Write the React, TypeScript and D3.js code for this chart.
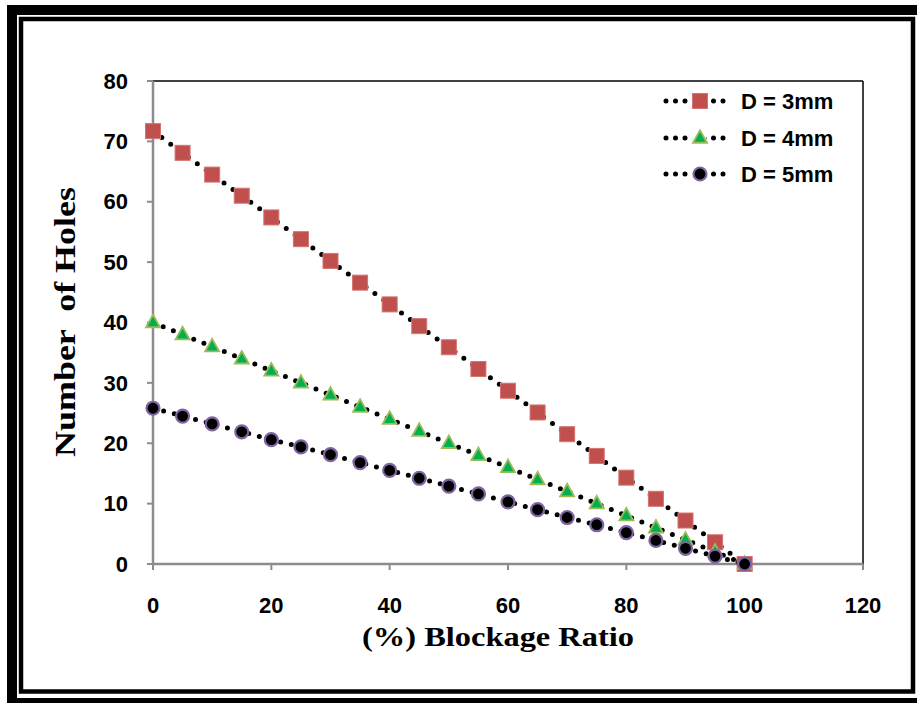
import React from "react";
import * as d3 from "d3";

const blockage = [0, 5, 10, 15, 20, 25, 30, 35, 40, 45, 50, 55, 60, 65, 70, 75, 80, 85, 90, 95, 100];
const holesD3 = [71.7, 68.1, 64.5, 61.0, 57.4, 53.8, 50.2, 46.6, 43.0, 39.4, 35.9, 32.3, 28.7, 25.1, 21.5, 17.9, 14.3, 10.8, 7.2, 3.6, 0];
const holesD4 = [40, 38, 36, 34, 32, 30, 28, 26, 24, 22, 20, 18, 16, 14, 12, 10, 8, 6, 4, 2, 0];
const holesD5 = [25.8, 24.5, 23.2, 21.9, 20.6, 19.4, 18.1, 16.8, 15.5, 14.2, 12.9, 11.6, 10.3, 9.0, 7.7, 6.5, 5.2, 3.9, 2.6, 1.3, 0];
const seriesNames = ["D = 3mm", "D = 4mm", "D = 5mm"];
const xTicks = [0, 20, 40, 60, 80, 100, 120];
const yTicks = [0, 10, 20, 30, 40, 50, 60, 70, 80];

const W = 917;
const H = 703;
const L = 153, R = 863, T = 81, B = 564;

const x = d3.scaleLinear().domain([0, 120]).range([L, R]);
const y = d3.scaleLinear().domain([0, 80]).range([B, T]);

const sans = "'Liberation Sans', Arial, sans-serif";
const serif = "'Liberation Serif', 'Times New Roman', serif";

function Marker({ kind, cx, cy }: { kind: number; cx: number; cy: number }) {
  if (kind === 0) {
    return <rect x={cx - 7.5} y={cy - 7.5} width={15} height={15} fill="#C0504D" stroke="#D4736F" strokeWidth={1} />;
  }
  if (kind === 1) {
    const s = 14;
    const h = 12.5;
    const p = [[cx, cy - h * 0.62], [cx + s / 2, cy + h * 0.38], [cx - s / 2, cy + h * 0.38]];
    return <polygon points={p.map((q) => q.join(",")).join(" ")} fill="#00B050" stroke="#9BBB59" strokeWidth={1.8} strokeLinejoin="miter" />;
  }
  return <circle cx={cx} cy={cy} r={6.5} fill="#000" stroke="#8064A2" strokeWidth={2.2} />;
}

export default function App() {
  const all = [holesD3, holesD4, holesD5];
  const line = d3.line<number>().x((_, i) => x(blockage[i])).y((d) => y(d));
  const legendY = [101, 138, 174];
  return (
    <svg width={W} height={H} style={{ position: "absolute", left: 0, top: 0, background: "#fff" }}>
      <rect x={0} y={0} width={W} height={H} fill="#fff" />
      {/* frames */}
      <rect x={12} y={10} width={910} height={693} fill="none" stroke="#000" strokeWidth={10} />
      <rect x={21} y={19} width={892} height={672.5} fill="none" stroke="#000" strokeWidth={4.5} />

      {/* plot border top/right */}
      <line x1={L} x2={R} y1={T} y2={T} stroke="#000" strokeWidth={1.5} />
      <line x1={R} x2={R} y1={T} y2={B} stroke="#000" strokeWidth={1.5} />

      {/* axes */}
      <line x1={L} x2={R} y1={B} y2={B} stroke="#8c8c8c" strokeWidth={2.5} />
      <line x1={L} x2={L} y1={T} y2={B} stroke="#8c8c8c" strokeWidth={2.5} />
      {yTicks.map((t) => (
        <g key={"y" + t}>
          <line x1={L - 6} x2={L} y1={y(t)} y2={y(t)} stroke="#8c8c8c" strokeWidth={2} />
          <text x={128} y={y(t)} dy="0.35em" textAnchor="end" fontFamily={sans} fontWeight="bold" fontSize={22} fill="#000">
            {t}
          </text>
        </g>
      ))}
      {xTicks.map((t) => (
        <g key={"x" + t}>
          <line x1={x(t)} x2={x(t)} y1={B} y2={B + 6} stroke="#8c8c8c" strokeWidth={2} />
          <text x={x(t)} y={605} dy="0.35em" textAnchor="middle" fontFamily={sans} fontWeight="bold" fontSize={22} fill="#000">
            {t}
          </text>
        </g>
      ))}

      {/* axis titles */}
      <text x={498} y={646} textAnchor="middle" fontFamily={serif} fontWeight="bold" fontSize={28} fill="#000"
        textLength={272} lengthAdjust="spacingAndGlyphs">
        (%) Blockage Ratio
      </text>
      <text
        transform={`translate(75, ${322}) rotate(-90)`}
        textAnchor="middle"
        fontFamily={serif}
        fontWeight="bold"
        fontSize={29}
        fill="#000"
        textLength={270}
        lengthAdjust="spacingAndGlyphs"
        style={{ whiteSpace: "pre" }}
      >
        {"Number  of Holes"}
      </text>

      {/* series lines */}
      {all.map((s, k) => (
        <path key={"l" + k} d={line(s) || ""} fill="none" stroke="#000" strokeWidth={5} strokeDasharray="0 11" strokeLinecap="round" />
      ))}
      {/* markers */}
      {all.map((s, k) => (
        <g key={"m" + k}>
          {s.map((v, i) => (
            <Marker key={i} kind={k} cx={x(blockage[i])} cy={y(v)} />
          ))}
        </g>
      ))}

      {/* legend */}
      {seriesNames.map((n, k) => (
        <g key={"lg" + k}>
          <line x1={666} x2={729} y1={legendY[k]} y2={legendY[k]} stroke="#000" strokeWidth={5} strokeDasharray="0 9.5" strokeLinecap="round" />
          <rect x={688} y={legendY[k] - 9} width={18} height={18} fill="#fff" />
          <Marker kind={k} cx={700} cy={legendY[k]} />
          <text x={741} y={legendY[k]} dy="0.36em" fontFamily={sans} fontWeight="bold" fontSize={22} fill="#000">
            {n}
          </text>
        </g>
      ))}
    </svg>
  );
}
